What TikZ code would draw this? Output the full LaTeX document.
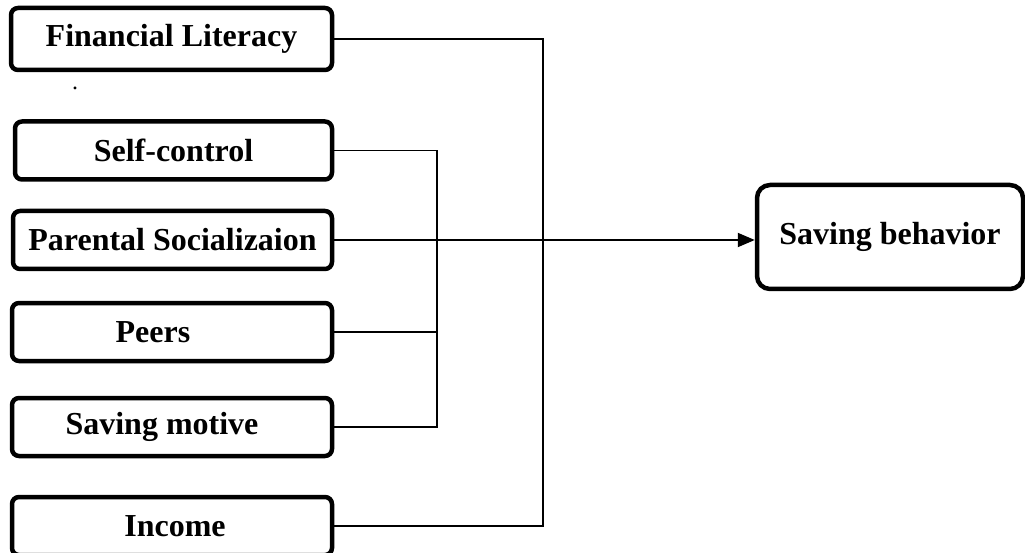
\documentclass[tikz,border=0pt]{standalone}
\usepackage{fontspec}
\setmainfont{Liberation Serif}
\usetikzlibrary{arrows.meta}
\tikzset{
  box/.style={draw, rectangle, rounded corners=7pt, line width=4.5pt, minimum width=320pt, minimum height=58pt, inner sep=0pt, font=\fontsize{32}{38}\selectfont\bfseries},
  bigbox/.style={draw, rectangle, rounded corners=13pt, line width=4.5pt, minimum width=266pt, minimum height=104pt, inner sep=0pt, font=\fontsize{32}{38}\selectfont\bfseries},
  conn/.style={line width=1.5pt},
  mainarrow/.style={line width=2pt, -{Triangle[length=17pt, width=14pt]}}
}
\begin{document}
\begin{tikzpicture}[x=1pt, y=-1pt]
\useasboundingbox (0,0) rectangle (1025,553);
\node[box, minimum height=62pt, minimum width=321pt] (fin) at (171.5,39) {Financial Literacy};
\node[font=\fontsize{24}{26}\selectfont] (dot) at (75,88) {.};
\node[box, minimum width=317pt] (self) at (173.5,150.5) {Self-control};
\node[box, minimum width=319pt] (par) at (172.5,240) {Parental Socializaion};
\node[box] (peers) at (172,332) {Peers\kern38pt};
\node[box] (motive) at (172,427) {Saving motive\kern20pt};
\node[box] (income) at (172,526) {\kern6pt Income};
\node[bigbox] (sb) at (890,237) {Saving behavior};
\coordinate (b1) at (437,427);
\coordinate (b2) at (543,526);
\draw[conn] (fin.east) -| (b2) -- (income.east);
\draw[conn] (self.east) -| (b1) -- (motive.east);
\draw[conn] (peers.east) -- (peers.east -| b1);
\draw[mainarrow] (par.east) -- (par.east -| sb.west);
\end{tikzpicture}
\end{document}
